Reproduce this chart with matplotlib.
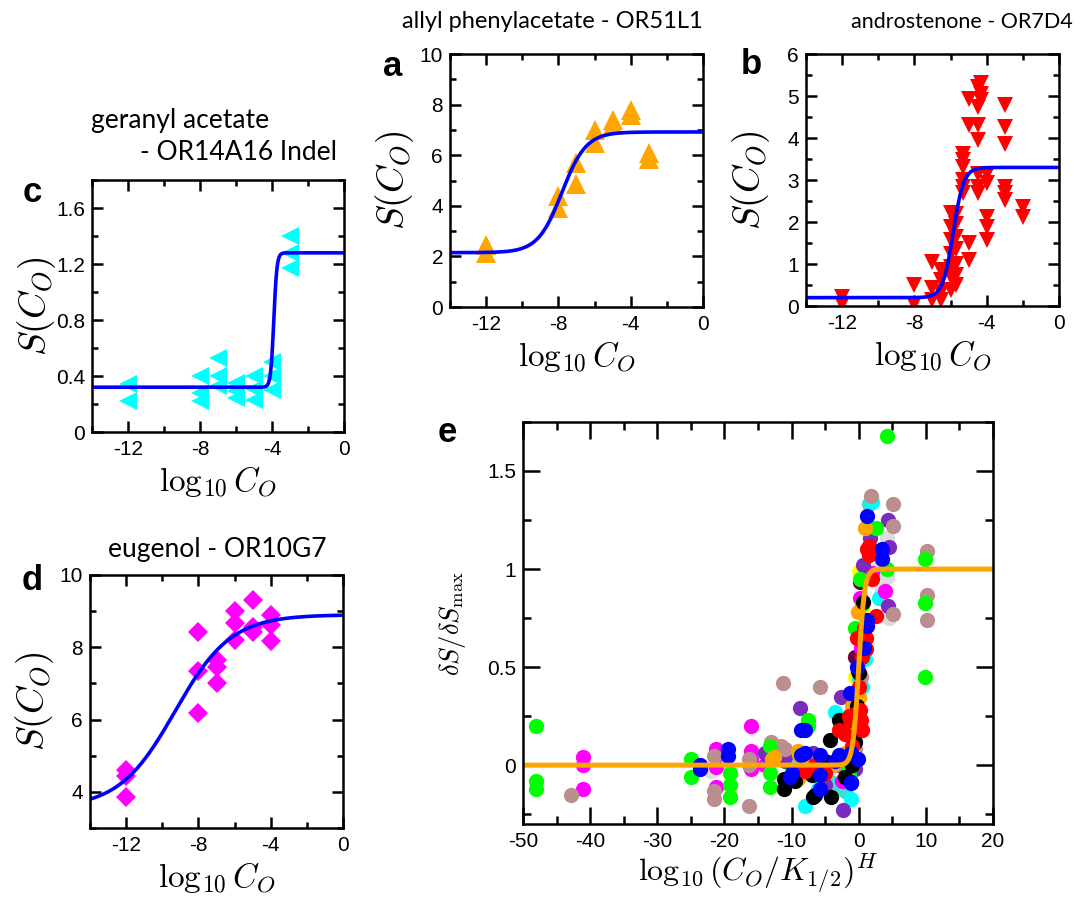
import matplotlib
matplotlib.use('Agg')
import matplotlib.pyplot as plt
from matplotlib.ticker import MultipleLocator, FuncFormatter
import numpy as np

plt.rcParams['mathtext.fontset'] = 'cm'
plt.rcParams['axes.unicode_minus'] = False
plt.rcParams['font.family'] = 'Liberation Sans'

# panel a - allyl phenylacetate
a_x = [-12, -12, -8, -8, -7, -7, -6, -6, -5, -5, -4, -4, -3, -3]
a_y = [2.45, 2.15, 4.4, 3.9, 5.7, 4.85, 7.0, 6.5, 7.4, 7.2, 7.8, 7.6, 6.1, 5.85]
a_fit = [2.15, 6.92, -7.8, 0.65]  # base, top, log10 K, H

# panel b - androstenone
b_x = [-12, -12, -8, -8, -7, -7, -7,
       -6.5, -6.5, -6.5, -6.5,
       -6, -6, -6, -6, -6, -6, -6,
       -5.7, -5.7, -5.7, -5.7, -5.7, -5.7, -5.7,
       -5.3, -5.3, -5.3, -5.3, -5.3, -5.3,
       -5, -5, -5, -5,
       -4.5, -4.5, -4.5, -4.5, -4.5, -4.5, -4.5,
       -4.3, -4.3, -4.3,
       -4, -4, -4, -4, -4,
       -3, -3, -3, -3, -3, -3,
       -2, -2]
b_y = [0.22, 0.06, 0.5, 0.06, 1.05, 0.42, 0.14,
       0.85, 0.62, 0.34, 0.14,
       2.22, 1.89, 1.57, 1.25, 0.94, 0.70, 0.38,
       2.2, 1.95, 1.65, 1.35, 1.0, 0.75, 0.5,
       3.63, 3.47, 3.31, 2.99, 2.84, 2.68,
       4.94, 4.31, 1.49, 1.09,
       5.22, 4.74, 4.31, 3.95, 3.15, 2.84, 2.68,
       5.30, 5.06, 4.90,
       3.15, 2.92, 2.13, 1.89, 1.57,
       4.78, 4.27, 3.87, 2.84, 2.68, 2.52,
       2.36, 2.13]
b_fit = [0.2, 3.3, -5.85, 1.5]

# panel c - geranyl acetate
c_x = [-12, -12, -8, -8, -8, -7, -7, -7, -6, -6, -6, -5, -5, -5, -4, -4, -4, -3, -3, -3]
c_y = [0.34, 0.22, 0.40, 0.28, 0.22, 0.53, 0.40, 0.33, 0.35, 0.29, 0.24,
       0.40, 0.31, 0.23, 0.50, 0.40, 0.30, 1.40, 1.28, 1.17]
c_fit = [0.32, 1.28, -3.9, 5.0]

# panel d - eugenol
d_x = [-12, -12, -12, -8, -8, -8, -7, -7, -7, -6, -6, -6, -5, -5, -5, -4, -4, -4]
d_y = [4.6, 4.45, 3.85, 8.41, 7.33, 6.17, 7.65, 7.46, 7.0, 8.99, 8.66, 8.2,
       9.31, 8.57, 8.43, 8.89, 8.62, 8.16]
d_fit = [3.55, 8.9, -9.3, 0.28]

# panel e - all receptors, normalised
e_fit = [0.0, 1.0, 0.0, 1.0]
e_groups = [
    ('#dcdcdc', [-22.0, 4.15, 4.15, 3.5, 4.5, -4.5, 2.8],
                [-0.03, 1.16, 0.96, 0.90, 0.75, -0.05, 1.0]),
    ('#ffff00', [0.05, 0.5, -0.5], [0.99, 0.80, 0.45]),
    ('#6b0045', [0.2, -0.5, -3.0, 0.0], [0.935, 0.55, 0.0, 0.2]),
    ('#008000', [-11.0, -1.5], [0.02, 0.0]),
    ('#40e0d0', [-4.5, -4.0, -3.5, -3.0, -2.5, -2.0, 1.5, 0.0, -0.3, -6.0],
                [-0.08, -0.09, -0.10, -0.11, -0.12, -0.13, 1.33, 0.44, 0.2, -0.05]),
    ('#00ffff', [-8.0, -3.5, -1.2, 2.0, 3.0, 0.9, -6.0, 0.5, -10.0],
                [-0.21, 0.27, -0.17, 1.34, 0.85, 0.54, -0.12, 0.40, 0.03]),
    ('#ff00ff', [-41, -41, -41, -21.2, -21.2, -21.2, -21.2, -16.1, -16.1, -16.1, -16.1,
                 -14, -9, -5, -2.5, 0.2, 3.9, 0.3, 2.0],
                [0.04, 0.0, -0.12, 0.085, -0.01, -0.11, 0.05, 0.20, 0.07, -0.02, 0.03,
                 0.0, -0.03, 0.0, -0.08, 0.85, 0.89, 0.6, 0.98]),
    ('#7b2cbf', [-14, -13.6, -8.7, -6.8, -2.6, -2.4, 1.7, 4.3, 4.5, 0.6, 4.3, -0.6, -11, -5],
                [0.06, 0.05, 0.29, 0.06, 0.35, -0.23, 1.16, 1.25, 1.11, 1.02, 0.81, -0.02, 0.04, -0.10]),
    ('#bc8f8f', [-42.8, -21.5, -21.5, -21.5, -16.3, -16.3, -16.3, -13, -11.3, -11.5, -11,
                 -5.8, -3.5, 0.0, 0.3, 1.9, 5.1, 5.1, 5.1, 10.2, 10.2, 10.2, -0.5],
                [-0.15, 0.046, -0.13, -0.17, 0.034, -0.21, 0.0, 0.12, 0.42, 0.10, 0.08,
                 0.40, 0.0, 0.20, 0.45, 1.37, 1.33, 1.22, 0.77, 1.09, 0.87, 0.74, 0.08]),
    ('#00ff00', [-48, -48, -48, -25, -25, -19.2, -19.2, -19.2, -13.2, -13.2, -13.2,
                 -7.5, -7.5, -4.5, -1.9, -1.5, -1.5, -0.5, 0.2, 2.6, 4.15, 4.15,
                 9.9, 9.9, 9.9, -2.0, 0.5],
                [0.20, -0.08, -0.12, 0.03, -0.06, -0.04, -0.10, -0.16, 0.10, -0.04, -0.11,
                 0.23, 0.20, 0.01, 0.18, -0.02, -0.05, 0.70, 0.95, 1.21, 1.00, 1.68,
                 1.05, 0.825, 0.45, 0.03, 0.82]),
    ('#ffa500', [-12.9, -12.6, -9.0, -8.9, -9.0, -0.1, 0.95, 0.0, -4, -7, -1, -2],
                [0.03, 0.04, 0.07, 0.05, -0.07, 0.78, 1.21, 0.35, 0.0, 0.01, 0.30, 0.06]),
    ('#000000', [-11.1, -11.1, -6.8, -6.5, -4.2, -4.3, -3.0, -0.06, -0.5, 0.7, 0.0,
                 -2, -7, -9.5, -0.3, -1, -5, 0.3],
                [-0.07, -0.12, -0.16, -0.15, -0.16, 0.13, 0.23, 0.48, 0.12, 0.83, 0.47,
                 -0.06, -0.05, -0.08, 0.30, 0.0, 0.02, 0.18]),
    ('#ff0000', [-2.9, -1.4, -0.5, -2.0, -1.3, 0.2, 0.3, 0.5, -0.3, 1.1, 1.1, 2.6,
                 1.6, 1.6, 1.2, 0.8, 0.5, 2.0, -8, -5, -1, 0.0, -6.5],
                [0.18, 0.25, 0.26, 0.16, 0.23, 0.28, 0.23, 0.18, 0.65, 0.59, 0.65, 0.76,
                 1.12, 1.07, 1.10, 0.70, 0.55, 0.95, -0.03, -0.04, 0.10, 0.40, 0.0]),
    ('#0000ff', [-23.6, -23.6, -19.4, -19.4, -10.3, -10.0, -8.6, -8.0, -8.0, -8.6, -5.8, -5.8,
                 -5.8, -3.6, -1.3, -1.2, -1.2, -1.15, -0.3, 1.3, 1.3, 1.3, 3.4, 3.4, 0.8,
                 -0.1, -3.0],
                [0.0, -0.02, 0.085, 0.045, -0.06, -0.04, 0.18, 0.18, 0.06, 0.05, 0.05, -0.05,
                 -0.12, 0.02, 0.37, 0.06, -0.09, -0.085, 0.50, 0.74, 0.71, 1.27, 1.10, 1.05, 0.60,
                 0.03, 0.05]),
]


def hill(x, p):
    base, top, x0, h = p
    return base + (top - base) / (1.0 + 10.0 ** (h * (x0 - x)))


def fmt(v, pos):
    return '%g' % v


def style(ax, xlim, ylim, xstep, ystep, big=False):
    ax.set_xlim(*xlim)
    ax.set_ylim(*ylim)
    ax.xaxis.set_major_locator(MultipleLocator(xstep))
    ax.xaxis.set_minor_locator(MultipleLocator(xstep / 2.0))
    ax.yaxis.set_major_locator(MultipleLocator(ystep))
    ax.yaxis.set_minor_locator(MultipleLocator(ystep / 2.0))
    ax.xaxis.set_major_formatter(FuncFormatter(fmt))
    ax.yaxis.set_major_formatter(FuncFormatter(fmt))
    for s in ax.spines.values():
        s.set_linewidth(1.8)
    maj = 12 if big else 8
    ax.tick_params(which='both', direction='in', top=True, right=True, width=1.8,
                   labelsize=15)
    ax.tick_params(which='major', length=maj)
    ax.tick_params(which='minor', length=maj / 2.0)
    ax.tick_params(axis='y', pad=5)
    ax.tick_params(axis='x', pad=6)


fig = plt.figure(figsize=(10.9, 8.98), dpi=100)

small = [
    ('a', [0.4128, 0.6581, 0.2321, 0.2817], a_x, a_y, a_fit, '^', '#ffa500', 14, (0, 10), 2),
    ('b', [0.7394, 0.6592, 0.2321, 0.2806], b_x, b_y, b_fit, 'v', '#ff0000', 12, (0, 6), 1),
    ('c', [0.0844, 0.5189, 0.2312, 0.2806], c_x, c_y, c_fit, '<', '#00ffff', 13, (0, 1.8), 0.4),
    ('d', [0.0826, 0.0780, 0.2321, 0.2817], d_x, d_y, d_fit, 'D', '#ff00ff', 10, (3, 10), 2),
]

xs = np.linspace(-14, 0, 400)
for name, rect, x, y, fit, mk, col, ms, ylim, ystep in small:
    ax = fig.add_axes(rect)
    ax.plot(x, y, ls='none', marker=mk, color=col, markersize=ms, markeredgewidth=0)
    ax.plot(xs, hill(xs, fit), color='#0000ff', lw=2.6)
    style(ax, (-14, 0), ylim, 4, ystep)
    if name == 'c':
        ax.yaxis.set_minor_locator(MultipleLocator(0.2))
    if name == 'd':
        ax.yaxis.set_minor_locator(MultipleLocator(1))
    ax.set_xlabel(r'$\log_{10} C_O$', fontsize=24, va='center')
    ax.set_ylabel(r'$S(C_O)$', fontsize=27, va='center')
    ax.xaxis.set_label_coords(0.5, -0.195)
    ax.yaxis.set_label_coords(-0.22, 0.5)

# panel e
ax = fig.add_axes([0.4798, 0.0824, 0.4312, 0.4477])
for col, x, y in e_groups:
    ax.plot(x, y, ls='none', marker='o', color=col, markersize=11, markeredgewidth=0)
xe = np.linspace(-50, 20, 800)
ax.plot(xe, hill(xe, e_fit), color='#ffa500', lw=3.6)
style(ax, (-50, 20), (-0.3, 1.75), 10, 0.5, big=True)
ax.set_xlabel(r'$\log_{10}(C_O/K_{1/2})^H$', fontsize=23, va='bottom')
ax.set_ylabel(r'$\delta S/\delta S_{\max}$', fontsize=19, va='center')
ax.xaxis.set_label_coords(0.5, -0.176)
ax.yaxis.set_label_coords(-0.149, 0.5)

# titles
tkw = dict(family='Lato', ha='center', va='center')
fig.text(552 / 1090, 1 - 22 / 898, 'allyl phenylacetate - OR51L1', fontsize=17, **tkw)
fig.text(962 / 1090, 1 - 22 / 898, 'androstenone - OR7D4', fontsize=15.5, **tkw)
fig.text(180 / 1090, 1 - 120 / 898, 'geranyl acetate', fontsize=19, **tkw)
fig.text(239 / 1090, 1 - 153 / 898, '- OR14A16 Indel', fontsize=19, **tkw)
fig.text(217 / 1090, 1 - 550 / 898, 'eugenol - OR10G7', fontsize=19, **tkw)

# panel letters
lkw = dict(fontsize=25, fontweight='bold', ha='center', va='center')
for letter, px, py in [('a', 393, 66), ('b', 751, 65), ('c', 32, 193), ('d', 32, 581), ('e', 447, 433)]:
    fig.text(px / 1090, 1 - py / 898, letter, **lkw)

fig.savefig('out.png', dpi=100)
